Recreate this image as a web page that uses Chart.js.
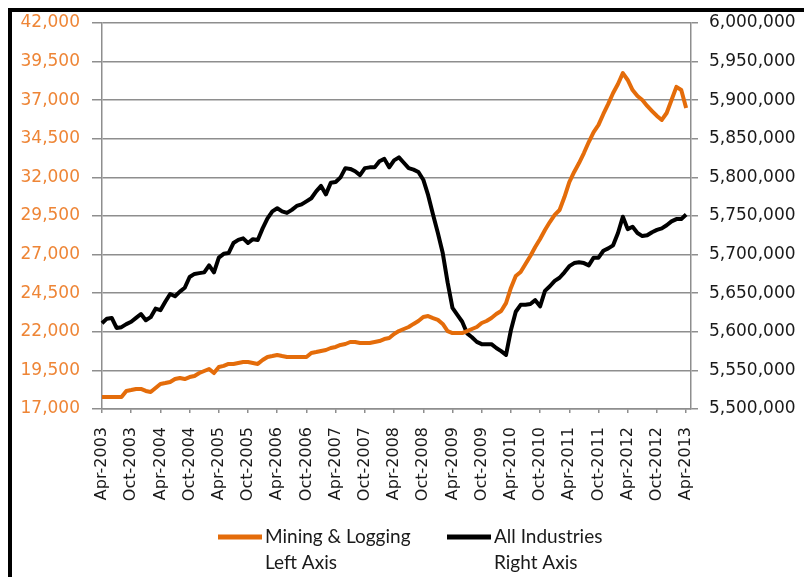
<!DOCTYPE html>
<html>
<head>
<meta charset="utf-8">
<script src="https://cdn.jsdelivr.net/npm/chart.js@4.4.1/dist/chart.umd.min.js"></script>
<style>
  html, body { margin: 0; padding: 0; background: #fff; }
  #wrap { position: relative; width: 804px; height: 577px; overflow: hidden; }
  #frame { position: absolute; left: 8px; top: 8px; right: -10px; bottom: -10px;
           border-top: 4px solid #000; border-left: 4px solid #000; }
  canvas { position: absolute; left: 0; top: 0; }
</style>
</head>
<body>
<div id="wrap">
  <div id="frame"></div>
  <canvas id="myChart" width="804" height="577"></canvas>
</div>
<script>
// monthly, Apr-2003 .. Apr-2013
var monthNames = ['Jan','Feb','Mar','Apr','May','Jun','Jul','Aug','Sep','Oct','Nov','Dec'];
var tickLabels = ['Apr-2003','Oct-2003','Apr-2004','Oct-2004','Apr-2005','Oct-2005','Apr-2006',
  'Oct-2006','Apr-2007','Oct-2007','Apr-2008','Oct-2008','Apr-2009','Oct-2009','Apr-2010',
  'Oct-2010','Apr-2011','Oct-2011','Apr-2012','Oct-2012','Apr-2013'];

var seriesNames = ['Mining & Logging', 'All Industries'];
var axisNotes = ['Left Axis', 'Right Axis'];

var mining = [
  17780,17780,17780,17780,17780,18170,18230,18300,18300,18170,
  18100,18360,18620,18680,18750,18940,19010,18940,19070,19140,
  19330,19460,19590,19330,19720,19790,19920,19920,19980,20040,
  20040,19980,19920,20170,20370,20430,20500,20430,20370,20370,
  20370,20370,20370,20630,20690,20760,20820,20950,21020,21150,
  21210,21340,21340,21280,21280,21280,21340,21400,21530,21600,
  21860,22050,22180,22310,22510,22700,22960,23020,22890,22770,
  22510,22050,21920,21920,21920,22050,22180,22310,22570,22700,
  22890,23150,23350,23860,24840,25610,25870,26390,26910,27490,
  28010,28590,29110,29570,29890,30730,31700,32350,32930,33580,
  34290,34940,35400,36110,36760,37470,38050,38750,38310,37660,
  37270,37010,36630,36300,35980,35720,36170,37010,37860,37660,
  36500];

var allIndustries = [
  5611000,5617000,5618000,5605000,5606000,5610000,5613000,5618000,5623000,5615000,
  5619000,5630000,5628000,5639000,5649000,5646000,5652000,5657000,5671000,5675000,
  5676000,5677000,5686000,5677000,5696000,5701000,5702000,5715000,5719000,5721000,
  5715000,5720000,5719000,5734000,5747000,5756000,5760000,5756000,5754000,5758000,
  5763000,5765000,5769000,5773000,5782000,5789000,5778000,5793000,5794000,5800000,
  5812000,5811000,5808000,5803000,5812000,5813000,5813000,5821000,5824000,5813000,
  5822000,5826000,5819000,5812000,5810000,5807000,5797000,5777000,5752000,5728000,
  5702000,5664000,5631000,5622000,5613000,5598000,5593000,5587000,5584000,5584000,
  5584000,5579000,5575000,5570000,5602000,5626000,5635000,5635000,5636000,5641000,
  5633000,5653000,5659000,5666000,5670000,5677000,5685000,5689000,5690000,5689000,
  5686000,5696000,5696000,5705000,5708000,5712000,5728000,5749000,5733000,5736000,
  5728000,5724000,5725000,5729000,5732000,5734000,5738000,5743000,5746000,5746000,
  5752000];

// categories Apr-2003 .. May-2013 (axis runs one month past the last point)
var months = [];
for (var i = 0; i < 122; i++) {
  var m = (3 + i) % 12, y = 2003 + Math.floor((3 + i) / 12);
  months.push(monthNames[m] + '-' + y);
}

var gridGray = '#8e8e8e';
var tickFont = { family: 'DejaVu Sans', size: 17 };

var twoLineLegend = {
  id: 'twoLineLegend',
  afterDraw: function (chart, args, opts) {
    var ctx = chart.ctx;
    ctx.save();
    chart.data.datasets.forEach(function (ds, k) {
      var x0 = opts.x[k], y0 = opts.y;
      ctx.strokeStyle = ds.borderColor;
      ctx.lineWidth = 5;
      ctx.beginPath();
      ctx.moveTo(x0, y0);
      ctx.lineTo(x0 + opts.lineLen, y0);
      ctx.stroke();
      ctx.fillStyle = '#1a1a1a';
      ctx.font = opts.font;
      ctx.textAlign = 'left';
      ctx.textBaseline = 'middle';
      ctx.fillText(ds.label, x0 + opts.lineLen + 3, y0);
      ctx.fillText(axisNotes[k], x0 + opts.lineLen + 3, y0 + opts.lineGap);
    });
    ctx.restore();
  }
};

var ctx = document.getElementById('myChart').getContext('2d');
var chart = new Chart(ctx, {
  type: 'line',
  data: {
    labels: months,
    datasets: [{
      label: seriesNames[0],
      data: mining,
      yAxisID: 'y',
      borderColor: '#E46C0A',
      backgroundColor: '#E46C0A',
      borderWidth: 4,
      pointRadius: 0,
      tension: 0,
      borderJoinStyle: 'round'
    },
    {
      label: seriesNames[1],
      data: allIndustries,
      yAxisID: 'y2',
      borderColor: '#000000',
      backgroundColor: '#000000',
      borderWidth: 4,
      pointRadius: 0,
      tension: 0,
      borderJoinStyle: 'round'
    }]
  },
  options: {
    responsive: false,
    animation: false,
    devicePixelRatio: 1,
    layout: { padding: { left: 0, right: 0, top: 23, bottom: 0 } },
    plugins: {
      legend: { display: false },
      tooltip: { enabled: false },
      twoLineLegend: { x: [218, 447], y: 537, lineLen: 44, lineGap: 26, font: '19px Lato' }
    },
    scales: {
      x: {
        type: 'category',
        offset: false,
        afterFit: function (s) { s.height = 168; },
        grid: {
          drawOnChartArea: false,
          tickLength: 4,
          lineWidth: 1.5,
          color: function (c) { return (c.index % 6 === 0 && c.index <= 120) ? gridGray : 'rgba(0,0,0,0)'; }
        },
        border: { color: gridGray, width: 1.5 },
        ticks: {
          autoSkip: false,
          minRotation: 90,
          maxRotation: 90,
          padding: 14,
          color: '#1a1a1a',
          font: { family: 'DejaVu Sans', size: 16 },
          callback: function (v, idx) { return (idx % 6 === 0 && idx <= 120) ? tickLabels[idx / 6] : ''; }
        }
      },
      y: {
        position: 'left',
        min: 17000,
        max: 42000,
        afterFit: function (s) { s.width = 102; },
        grid: { color: gridGray, lineWidth: 1.5, tickLength: 10 },
        border: { color: gridGray, width: 1.5 },
        ticks: {
          stepSize: 2500,
          padding: 12,
          color: '#EE8536',
          font: tickFont,
          callback: function (v) { return v.toLocaleString('en-US'); }
        }
      },
      y2: {
        position: 'right',
        min: 5500000,
        max: 6000000,
        afterFit: function (s) { s.width = 113; },
        grid: { drawOnChartArea: false, color: gridGray, lineWidth: 1.5, tickLength: 7 },
        border: { color: gridGray, width: 1.5 },
        ticks: {
          stepSize: 50000,
          padding: 11,
          color: '#1a1a1a',
          font: tickFont,
          callback: function (v) { return v.toLocaleString('en-US'); }
        }
      }
    }
  },
  plugins: [twoLineLegend]
});
</script>
</body>
</html>
